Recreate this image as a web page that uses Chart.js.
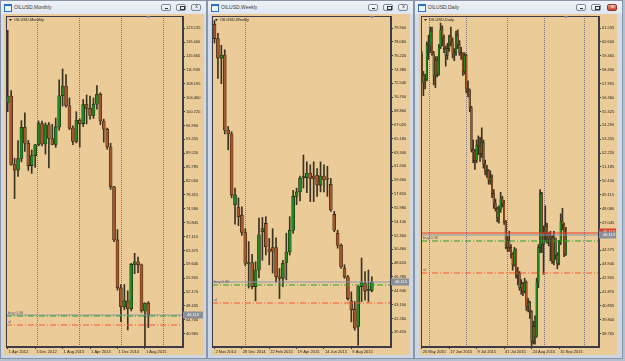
<!DOCTYPE html>
<html>
<head>
<meta charset="utf-8">
<script src="https://cdn.jsdelivr.net/npm/chart.js@4.4.1/dist/chart.umd.min.js"></script>
<style>
  html, body { margin: 0; padding: 0; }
  body { width: 625px; height: 361px; background: #b4c0d0; position: relative; overflow: hidden; font-family: 'Liberation Sans', Arial, sans-serif; }
  .win { position: absolute; top: 0; height: 359px; box-sizing: border-box; border: 1px solid #8895a8;
         background: linear-gradient(#eef2f7 0, #dfe6ef 13px, #d3dce8 14px, #cdd7e4 100%); }
  .ico { position: absolute; left: 3px; top: 3px; width: 6px; height: 5px; border: 1px solid #2f6fc0; background: #eaf2ff; border-top-width: 2px; }
  .cap { position: absolute; left: 13px; top: 3px; font-size: 5px; line-height: 7px; color: #3a3a3a; }
  .btn { position: absolute; top: 3px; width: 10px; height: 7px; border: 1px solid #7c889b; border-radius: 2px;
         background: linear-gradient(#fbfcfe, #dde3eb); box-sizing: border-box; }
  .btn.min::after { content: ''; position: absolute; left: 3px; top: 3px; width: 3px; height: 1px; background: #333; }
  .btn.max::after { content: ''; position: absolute; left: 3px; top: 1px; width: 3px; height: 2px; border: 1px solid #333; box-sizing: content-box; }
  .btn.cls::after { content: 'x'; position: absolute; left: 3px; top: -2px; font-size: 6px; color: #333; }
  .btn.red { background: linear-gradient(#e8a090, #c8402c); border-color: #8a3326; }
  .btn.red::after { color: #fff; }
  .client { position: absolute; background: #ebcb98; }
  canvas { position: absolute; left: 0; top: 0; }
</style>
</head>
<body>

<div class="win" style="left:0;width:207px">
  <div class="ico"></div><div class="cap">OILUSD,Monthly</div>
  <div class="btn min" style="left:160px"></div><div class="btn max" style="left:175px"></div><div class="btn cls" style="left:190px"></div>
  <div class="client" style="left:3px;top:13px;width:200px;height:341px"><canvas id="c1" width="200" height="341"></canvas></div>
</div>

<div class="win" style="left:207px;width:207px">
  <div class="ico"></div><div class="cap">OILUSD,Weekly</div>
  <div class="btn min" style="left:160px"></div><div class="btn max" style="left:175px"></div><div class="btn cls" style="left:190px"></div>
  <div class="client" style="left:3px;top:13px;width:199px;height:341px"><canvas id="c2" width="199" height="341"></canvas></div>
</div>

<div class="win" style="left:414px;width:209px">
  <div class="ico"></div><div class="cap">OILUSD,Daily</div>
  <div class="btn min" style="left:161px"></div><div class="btn max" style="left:176px"></div><div class="btn cls red" style="left:192px"></div>
  <div class="client" style="left:4px;top:13px;width:198px;height:341px"><canvas id="c3" width="198" height="341"></canvas></div>
</div>

<script>
// ---- monthly, Apr 2012 .. Sep 2015
const monthOpen  = [103.2,104.9,86.5,85.0,88.1,96.5,92.2,86.2,88.9,91.8,97.5,92.0,97.2,93.5,91.9,96.6,105.0,107.6,102.3,96.3,92.7,98.4,97.5,102.6,101.6,99.7,102.7,105.4,98.2,96.0,91.2,80.5,66.2,53.3,48.2,49.8,47.7,59.6,60.3,59.5,47.1,49.2];
const monthHigh  = [122.6,106.4,88.2,92.9,98.3,100.4,93.0,90.4,91.9,98.2,98.2,97.7,97.8,97.3,99.0,109.3,112.2,110.7,104.4,96.9,100.7,98.8,104.0,105.2,104.9,104.4,107.7,105.8,98.7,96.3,92.2,80.6,69.0,54.2,54.2,52.5,59.9,62.6,61.6,59.7,49.3,49.6];
const monthLow   = [100.7,86.3,77.3,83.3,87.2,90.0,84.9,84.1,85.7,91.5,91.5,89.3,85.6,91.8,91.1,95.7,102.2,101.9,95.9,91.8,92.3,91.2,96.7,97.4,98.7,98.9,101.4,97.2,92.5,90.6,79.8,65.7,52.7,44.2,47.4,42.0,47.1,57.1,57.4,46.7,37.75,42.6];
const monthClose = [104.9,86.5,85.0,88.1,96.5,92.2,86.2,88.9,91.8,97.5,92.0,97.2,93.5,91.9,96.6,105.0,107.6,102.3,96.3,92.7,98.4,97.5,102.6,101.6,99.7,102.7,105.4,98.2,96.0,91.2,80.5,66.2,53.3,48.2,49.8,47.7,59.6,60.3,59.5,47.1,49.2,46.1];
const monthTickIdx  = [0, 8, 16, 24, 32, 40];
const monthTickText = ['1 Apr 2012', '1 Dec 2012', '1 Aug 2013', '1 Apr 2014', '1 Dec 2014', '1 Aug 2015'];
const monthYTicks = [123.135,119.400,115.665,111.930,108.195,104.460,100.725,96.990,93.255,89.520,85.785,82.050,78.315,74.580,70.845,67.110,63.375,59.640,55.905,52.170,48.435,44.700,40.965];
const monthSeps = [8.6, 20.9, 32.9, 45.2];

// ---- weekly, 2 Nov 2014 .. 20 Sep 2015
const weekOpen  = [80.4,78.5,75.9,76.3,66.3,65.8,56.4,56.0,55.0,52.7,48.5,48.7,45.5,47.7,52.8,53.9,50.5,50.7,50.7,46.8,46.6,48.7,50.1,53.0,57.5,58.1,60.0,60.0,60.6,60.2,60.3,59.0,60.2,59.9,59.1,55.1,52.6,51.0,47.9,46.8,43.6,42.5,40.2,45.5,45.9,45.0,45.0];
const weekHigh  = [80.9,79.2,77.6,77.0,66.8,66.1,58.6,57.3,56.1,53.2,51.5,49.8,48.8,54.6,54.7,54.8,51.9,53.2,52.0,47.9,49.0,52.6,54.8,58.3,58.6,60.2,63.0,62.1,61.7,62.1,61.2,62.1,61.7,61.5,59.9,55.5,53.0,51.2,48.4,47.0,44.8,43.5,45.6,49.3,47.5,47.7,46.8];
const weekLow   = [77.9,73.2,72.5,65.8,63.7,57.3,53.8,53.6,52.3,48.3,45.3,45.2,43.6,46.7,49.0,49.7,48.4,47.3,46.1,43.9,45.5,46.4,49.7,52.6,56.4,56.9,58.6,58.0,56.8,56.8,57.5,58.1,58.1,57.5,55.5,52.8,50.6,47.9,46.6,43.7,40.8,39.7,37.7,43.5,43.7,43.5,44.8];
const weekClose = [78.5,75.9,76.3,66.3,65.8,57.7,57.7,54.8,52.7,48.6,48.7,45.5,47.7,52.4,53.2,50.8,50.1,50.2,46.8,46.6,48.6,50.1,53.0,57.5,58.1,59.9,60.1,60.6,59.9,59.9,59.0,60.2,59.7,59.8,55.7,53.0,51.0,48.1,46.8,43.9,42.4,40.0,45.5,46.1,44.9,45.0,46.1];
const weekTickIdx  = [0, 8, 16, 24, 32, 40];
const weekTickText = ['2 Nov 2014', '28 Dec 2014', '22 Feb 2015', '19 Apr 2015', '14 Jun 2015', '9 Aug 2015'];
const weekYTicks = [79.900,78.060,76.220,74.380,72.540,70.700,68.860,67.020,65.180,63.340,61.500,59.660,57.820,55.980,54.140,52.300,50.460,48.620,46.780,44.940,43.100,41.260,39.420];
const weekSeps = [9];

// ---- daily, 26 May 2015 .. 21 Sep 2015
const dayOpen  = [59.6,58.0,57.5,57.7,60.3,60.2,61.3,59.6,58.0,59.1, 58.1,60.1,61.4,60.8,60.0,59.5,60.0,60.9,60.5,59.6, 59.7,61.0,60.3,59.7,59.6,58.3,59.5,57.0,56.9,55.6, 52.5,52.3,51.7,52.8,52.7,52.2,53.0,51.4,50.9,50.9, 50.2,50.4,49.2,48.5,48.1,47.4,48.0,48.8,48.5,47.1, 45.2,45.7,45.2,44.7,43.9,45.0,43.1,43.3,42.2,42.5, 41.9,42.6,40.8,41.1,40.45,38.2,39.3,38.6,42.6,45.2, 49.2,45.4,46.25,46.75,46.05,45.9,45.9,44.15,45.9,44.6, 44.0,45.6,47.15,46.9,44.7];
const dayHigh  = [59.8,58.3,58.1,60.5,61.0,61.6,61.6,59.8,59.4,59.4, 60.3,61.9,61.7,61.0,60.2,60.4,61.0,61.6,60.8,60.0, 61.3,61.4,60.6,60.1,59.7,59.7,59.6,57.6,57.0,55.7, 53.2,52.5,53.2,53.5,53.4,54.1,53.2,51.7,51.3,51.0, 50.9,50.6,49.5,48.8,48.2,48.3,49.3,49.0,48.7,47.2, 46.0,46.4,45.4,44.8,45.2,45.1,43.7,43.4,42.8,42.6, 42.9,42.7,41.4,41.2,40.5,39.7,40.1,42.9,45.4,49.5, 49.3,46.8,48.3,47.0,46.3,46.4,46.1,46.4,45.9,44.8, 45.7,47.7,48.1,47.0,46.7];
const dayLow   = [57.5,56.5,57.0,57.6,59.2,59.7,59.5,57.3,57.1,57.9, 58.0,60.0,60.2,59.7,58.7,59.2,59.8,60.2,59.3,59.1, 59.5,60.0,59.5,59.2,58.0,58.1,56.7,56.4,55.3,52.3, 51.5,51.0,51.5,52.1,51.6,51.9,51.1,50.6,50.4,49.9, 49.9,48.9,48.1,47.9,47.1,47.0,47.8,48.2,46.9,45.1, 44.9,44.9,44.4,43.5,43.8,42.9,42.4,42.0,41.7,41.6, 41.8,40.5,40.4,39.9,37.8,38.0,38.0,38.5,42.2,44.8, 44.8,43.2,45.6,45.5,45.3,44.2,44.0,43.9,44.3,43.6, 43.9,45.4,46.5,44.5,44.6];
const dayClose = [58.0,57.5,57.7,60.3,60.2,61.3,59.6,58.0,59.1,58.1, 60.1,61.4,60.8,60.0,59.5,60.0,60.9,60.5,59.6,59.7, 61.0,60.3,59.7,59.6,58.3,59.5,57.0,56.9,55.6,52.5, 52.3,51.7,52.8,52.7,52.2,53.0,51.4,50.9,50.9,50.2, 50.4,49.2,48.5,48.1,47.4,48.0,48.8,48.5,47.1,45.2, 45.7,45.2,44.7,43.9,45.0,43.1,43.3,42.2,42.5,41.9, 42.6,40.8,41.1,40.45,38.2,39.3,38.6,42.6,45.2,49.2, 45.4,46.25,46.75,46.05,45.9,45.9,44.15,45.9,44.6,44.0, 45.6,47.15,46.9,44.7,46.1];
const dayTickIdx  = [0, 16, 32, 48, 64, 80];
const dayTickText = ['26 May 2015', '17 Jun 2015', '9 Jul 2015', '31 Jul 2015', '24 Aug 2015', '15 Sep 2015'];
const dayYTicks = [61.535,60.500,59.465,58.430,57.395,56.360,55.325,54.290,53.255,52.220,51.185,50.150,49.115,48.080,47.045,46.010,44.975,43.940,42.905,41.870,40.835,39.800,38.765];
const daySeps = [4, 26, 49.5, 71, 94.5];

// ---- trade levels
const bidPrice = 46.113;
const askPrice = 46.233;
const buyPrice = 45.65;
const slPrice = 43.30;

const UP = '#1f8a22', DOWN = '#a65628', WICK = '#3a3222', AXIS = '#3c3c48', GRID = '#76729c';
const FONT = "'Liberation Sans', Arial, sans-serif";

const mt4 = {
  id: 'mt4',
  beforeDatasetsDraw(chart, args, o) {
    const {ctx, chartArea: a, scales: {x}} = chart;
    ctx.save();
    ctx.strokeStyle = GRID; ctx.lineWidth = 1; ctx.setLineDash([1, 1]);
    o.seps.forEach(v => {
      const px = Math.round(x.getPixelForValue(v)) + 0.5;
      ctx.beginPath(); ctx.moveTo(px, a.top); ctx.lineTo(px, a.bottom); ctx.stroke();
    });
    ctx.restore();
  },
  afterDatasetsDraw(chart, args, o) {
    const {ctx, chartArea: a, scales: {x, y}} = chart;
    // level lines straddle two pixel rows, like the soft lines of the screenshot
    const hline = (v, color, dash, w) => {
      const py = Math.round(y.getPixelForValue(v));
      ctx.strokeStyle = color; ctx.setLineDash(dash); ctx.lineWidth = w;
      ctx.beginPath(); ctx.moveTo(a.left, py); ctx.lineTo(a.right, py); ctx.stroke();
      return py;
    };
    ctx.save();
    ctx.font = '4px ' + FONT;
    ctx.textBaseline = 'bottom';
    const by = hline(bidPrice, '#8797b0', [], 1.1);
    if (o.ask) hline(askPrice, '#f03a20', [], 1.1);
    const gy = hline(buyPrice, '#2aa626', [6, 2, 1, 2], 1.15);
    const ry = hline(slPrice, '#f65a30', [6, 2, 1, 2], 1.15);
    ctx.fillStyle = '#4c5a78';
    ctx.fillText('buy 0.30', a.left + 2, gy - 1);
    ctx.fillText('sl', a.left + 2, ry - 1);

    // frame
    ctx.setLineDash([]);
    ctx.lineWidth = 1;
    ctx.strokeStyle = AXIS;
    ctx.strokeRect(a.left + 0.5, a.top + 0.5, a.right - a.left - 1, a.bottom - a.top - 1);

    // symbol caption
    ctx.fillStyle = '#202020';
    ctx.beginPath(); ctx.moveTo(a.left + 3, a.top + 3); ctx.lineTo(a.left + 6, a.top + 3); ctx.lineTo(a.left + 4.5, a.top + 5); ctx.fill();
    ctx.textBaseline = 'middle';
    ctx.fillText(o.caption, a.left + 8, a.top + 4);

    // shift marker
    const sx = x.getPixelForValue(o.last);
    ctx.fillStyle = '#6f7fa6';
    ctx.beginPath(); ctx.moveTo(sx - 2, a.top); ctx.lineTo(sx + 2, a.top); ctx.lineTo(sx, a.top + 2.5); ctx.fill();

    // price boxes on the scale
    const box = (py, fill) => {
      ctx.fillStyle = fill;
      ctx.fillRect(a.right, py - 3.5, chart.width - a.right - 1, 7);
      ctx.fillStyle = '#ffffff';
      ctx.fillText(bidPrice.toFixed(3), a.right + 4, py);
    };
    if (o.ask) box(Math.round(y.getPixelForValue(askPrice)) - 1, '#d8402c');
    box(by, '#8a8f98');
    ctx.restore();
  }
};

function candleChart(id, c) {
  const wicks = [], bodies = [], colors = [];
  for (let i = 0; i < c.open.length; i++) {
    wicks.push({x: i, y: [c.low[i], c.high[i]]});
    bodies.push({x: i, y: [c.open[i], c.close[i]]});
    colors.push(c.close[i] >= c.open[i] ? UP : DOWN);
  }
  new Chart(document.getElementById(id), {
    type: 'bar',
    data: {
      datasets: [
        {data: bodies, backgroundColor: colors, borderColor: '#22190f', borderWidth: c.edge, borderSkipped: false,
         barThickness: c.body, minBarLength: 1, grouped: false, order: 1},
        {data: wicks, backgroundColor: WICK, barThickness: 1, grouped: false, order: 2}
      ]
    },
    options: {
      responsive: false,
      animation: false,
      events: [],
      layout: {padding: {left: c.padLeft, top: 2, right: 0, bottom: 0}},
      plugins: {
        legend: {display: false},
        tooltip: {enabled: false},
        mt4: {seps: c.seps, caption: c.caption, last: c.open.length - 1, ask: c.ask}
      },
      scales: {
        x: {
          type: 'linear', min: c.xMin, max: c.xMax, offset: false, bounds: 'data',
          grid: {drawOnChartArea: false, offset: false, tickLength: 2, color: AXIS},
          border: {color: AXIS},
          afterBuildTicks: s => { s.ticks = c.tickIdx.map(v => ({value: v})); },
          afterFit: s => { s.height = 8; s.paddingLeft = 0; s.paddingRight = 0; },
          ticks: {
            autoSkip: false, maxRotation: 0, align: 'start', padding: 0, labelOffset: 1,
            color: '#1c1c1c', font: {family: FONT, size: 4},
            callback: v => c.tickText[c.tickIdx.indexOf(v)] || ''
          }
        },
        y: {
          type: 'linear', position: 'right', min: c.yMin, max: c.yMax, bounds: 'data',
          grid: {drawOnChartArea: false, tickLength: 2, color: AXIS},
          border: {color: AXIS},
          afterBuildTicks: s => { s.ticks = c.yTicks.map(v => ({value: v})); },
          afterFit: s => { s.width = c.yWidth; s.paddingTop = 0; s.paddingBottom = 0; },
          ticks: {
            autoSkip: false, padding: 1, color: '#1c1c1c', font: {family: FONT, size: 4},
            callback: v => v.toFixed(3)
          }
        }
      }
    },
    plugins: [mt4]
  });
}

candleChart('c1', {
  open: monthOpen, high: monthHigh, low: monthLow, close: monthClose,
  tickIdx: monthTickIdx, tickText: monthTickText, yTicks: monthYTicks, seps: monthSeps,
  caption: 'OILUSD,Monthly', xMin: -0.5, xMax: 51.1, yMin: 37.39, yMax: 126.45,
  body: 3, edge: 0.6, padLeft: 2, yWidth: 21, ask: false
});
candleChart('c2', {
  open: weekOpen, high: weekHigh, low: weekLow, close: weekClose,
  tickIdx: weekTickIdx, tickText: weekTickText, yTicks: weekYTicks, seps: weekSeps,
  caption: 'OILUSD,Weekly', xMin: -0.73, xMax: 51.6, yMin: 37.46, yMax: 81.50,
  body: 3, edge: 0.6, padLeft: 1, yWidth: 19, ask: false
});
candleChart('c3', {
  open: dayOpen, high: dayHigh, low: dayLow, close: dayClose,
  tickIdx: dayTickIdx, tickText: dayTickText, yTicks: dayYTicks, seps: daySeps,
  caption: 'OILUSD,Daily', xMin: -0.4, xMax: 103.3, yMin: 37.78, yMax: 62.43,
  body: 1.6, edge: 0.4, padLeft: 2, yWidth: 18, ask: true
});
</script>
</body>
</html>
